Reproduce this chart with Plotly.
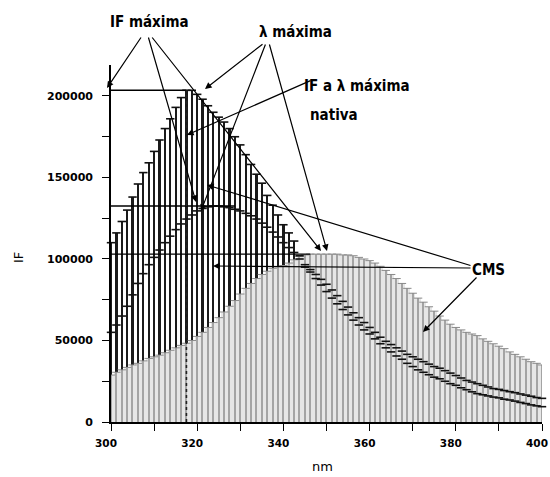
import plotly.graph_objects as go

# ---------------- data ----------------
wavelength_nm = [
    300, 301.25, 302.5, 303.75, 305, 306.25, 307.5, 308.75, 310, 311.25,
    312.5, 313.75, 315, 316.25, 317.5, 318.75, 320, 321.25, 322.5, 323.75,
    325, 326.25, 327.5, 328.75, 330, 331.25, 332.5, 333.75, 335, 336.25,
    337.5, 338.75, 340, 341.25, 342.5, 343.75, 345, 346.25, 347.5, 348.75,
    350, 351.25, 352.5, 353.75, 355, 356.25, 357.5, 358.75, 360, 361.25,
    362.5, 363.75, 365, 366.25, 367.5, 368.75, 370, 371.25, 372.5, 373.75,
    375, 376.25, 377.5, 378.75, 380, 381.25, 382.5, 383.75, 385, 386.25,
    387.5, 388.75, 390, 391.25, 392.5, 393.75, 395, 396.25, 397.5, 398.75, 400]

# native spectrum (dark, IF máxima at ~318 nm)
if_nativa = [
    110000, 116000, 123000, 130000, 138000, 146000, 153000, 159000, 166000, 173000,
    180000, 186000, 193000, 199000, 203500, 203500, 201000, 198000, 194000, 190000,
    187000, 184000, 180000, 175000, 170000, 164000, 158000, 152000, 146500, 139000,
    133000, 127000, 121000, 116000, 111000, 102000, 95000, 92000, 88000, 84000,
    80000, 76000, 72500, 69000, 65700, 62500, 59500, 56500, 54000, 51000,
    48000, 45500, 43000, 40500, 38500, 36000, 34000, 32000, 30500, 29000,
    27500, 26500, 25000, 23500, 22500, 21000, 19800, 18500, 17400, 16700,
    16000, 15300, 14800, 14000, 13500, 12800, 12000, 11300, 10500, 9900, 9400]

# second spectrum (IF máxima ~132000 near 324 nm)
if_intermedia = [
    55000, 59500, 65000, 71000, 78000, 85000, 91000, 96500, 101000, 105500,
    110000, 114000, 118000, 121500, 124500, 127000, 129500, 131000, 132000, 132500,
    132500, 132000, 131500, 130500, 129500, 128000, 126500, 124500, 122000, 119500,
    116500, 113500, 110000, 107000, 104000, 100000, 96500, 93500, 90500, 87500,
    84500, 81000, 77500, 74000, 70500, 67000, 64000, 61000, 58000, 55000,
    52000, 49500, 47500, 45500, 43500, 41500, 40000, 38500, 37000, 35500,
    34000, 33000, 31500, 30000, 28500, 27000, 25500, 24500, 23500, 22500,
    21500, 20500, 20000, 19300, 18600, 18000, 17200, 16500, 15800, 15000, 14500]

# CMS spectrum (light grey, IF máxima ~103000 near 350 nm)
if_cms = [
    28800, 30500, 32000, 33500, 35000, 36000, 37500, 39000, 40000, 41000,
    42500, 44000, 45500, 47000, 48300, 50000, 52500, 55000, 58000, 61000,
    64000, 67500, 71000, 74500, 78500, 82000, 85000, 88000, 90500, 92500,
    94300, 95300, 96000, 97500, 99500, 101500, 102500, 103000, 103000, 103000,
    103000, 103000, 103000, 102500, 102500, 102000, 101000, 100000, 99000, 97500,
    95500, 93000, 90500, 88000, 85000, 82000, 79000, 76000, 73500, 70700,
    68000, 65000, 62500, 60000, 58000, 56500, 55000, 54000, 53000, 51000,
    49500, 48000, 46500, 45000, 43000, 41500, 40000, 38500, 37000, 36000, 35000]

x_ticks = [300, 310, 320, 330, 340, 350, 360, 370, 380, 390, 400]
x_ticktext = ["300", "", "320", "", "340", "", "360", "", "380", "", "400"]
y_ticks = [0, 25000, 50000, 75000, 100000, 125000, 150000, 175000, 200000]
y_ticktext = ["0", "", "50000", "", "100000", "", "150000", "", "200000"]

# ---------------- layout constants ----------------
W, H = 550, 477
L, R, T, B = 111, 8, 65, 55
PW, PH = W - L - R, H - T - B
LABEL_FONT = dict(family="DejaVu Sans Condensed, Liberation Sans Narrow, Arial Narrow, Liberation Sans, sans-serif",
                  size=15, color="black", weight="bold")
TICK_FONT = dict(family="DejaVu Sans, sans-serif", color="black", weight="bold")


def pp(px, py):
    """pixel position -> paper coordinates"""
    return (px - L) / PW, (H - B - py) / PH


fig = go.Figure()

# dark vertical lines of the native spectrum
fig.add_trace(go.Bar(x=wavelength_nm, y=if_nativa, width=0.52,
                     marker=dict(color="#1a1a1a", line=dict(width=0)),
                     showlegend=False, hoverinfo="skip"))
# CMS spectrum: light grey field with fine grey lines
fig.add_trace(go.Bar(x=wavelength_nm, y=if_cms, width=1.25,
                     marker=dict(color="#e6e6e6", line=dict(width=0)),
                     showlegend=False, hoverinfo="skip"))
fig.add_trace(go.Bar(x=wavelength_nm, y=if_cms, width=0.28,
                     marker=dict(color="#a4a4a4", line=dict(width=0)),
                     showlegend=False, hoverinfo="skip"))
# CMS top caps (soft)
fig.add_trace(go.Scatter(x=wavelength_nm, y=if_cms, mode="markers",
                         marker=dict(symbol="line-ew", size=6,
                                     line=dict(color="#8a8a8a", width=1)),
                         showlegend=False, hoverinfo="skip"))
# caps of the two darker spectra
for series in (if_nativa, if_intermedia):
    fig.add_trace(go.Scatter(x=wavelength_nm, y=series, mode="markers",
                             marker=dict(symbol="line-ew", size=6,
                                         line=dict(color="#111", width=1.6)),
                             showlegend=False, hoverinfo="skip", cliponaxis=False))

# guide lines derived from data maxima
shapes = []
for series, extra in ((if_nativa, 0), (if_intermedia, 5), (if_cms, 0)):
    m = max(series)
    xm = wavelength_nm[series.index(m)]
    shapes.append(dict(type="line", xref="x", yref="y", x0=300, x1=xm + extra,
                       y0=m, y1=m, line=dict(color="black", width=1.4), layer="above"))
m_nat = max(if_nativa)
x_nat = wavelength_nm[if_nativa.index(m_nat)]
shapes.append(dict(type="line", xref="x", yref="y", x0=x_nat, x1=x_nat, y0=0, y1=m_nat,
                   line=dict(color="#222", width=1.6, dash="dot"), layer="above"))

annotations = []
# text labels (pixel positions)
for txt, px, py in (("IF máxima", 149, 22), ("λ máxima", 295, 32),
                    ("IF a λ máxima", 357, 86), ("nativa", 334, 115), ("CMS", 488, 270)):
    x, y = pp(px, py)
    annotations.append(dict(text=txt, x=x, y=y, xref="paper", yref="paper",
                            showarrow=False, font=LABEL_FONT,
                            xanchor="center", yanchor="middle"))

# arrows: (tail_px, tail_py, tip_px, tip_py)
arrows = [
    (142, 36, 107, 88), (148, 36, 196, 202), (151, 36, 321, 251),
    (264, 43, 205, 89), (266, 43, 201, 211), (269, 43, 327, 251),
    (312, 80, 187, 135),
    (472, 266, 207, 185), (472, 268, 213, 266), (478, 276, 423, 332),
]
for tx, ty, hx, hy in arrows:
    x, y = pp(hx, hy)
    annotations.append(dict(text="", x=x, y=y, xref="paper", yref="paper",
                            showarrow=True, ax=tx - hx, ay=ty - hy,
                            arrowhead=2, arrowsize=1.1, arrowwidth=1.2,
                            arrowcolor="black", standoff=0))

# axis titles
x, y = pp(18, 258)
annotations.append(dict(text="IF", x=x, y=y, xref="paper", yref="paper", showarrow=False,
                        xanchor="center", yanchor="middle", textangle=-90,
                        font=dict(family="DejaVu Sans, sans-serif", size=13, color="black")))
x, y = pp(322, 466)
annotations.append(dict(text="nm", x=x, y=y, xref="paper", yref="paper", showarrow=False,
                        xanchor="center", yanchor="middle",
                        font=dict(family="DejaVu Sans, sans-serif", size=13, color="black")))

fig.update_layout(
    width=W, height=H, margin=dict(l=L, r=R, t=T, b=B, pad=0, autoexpand=False),
    paper_bgcolor="white", plot_bgcolor="white",
    barmode="overlay", bargap=0, showlegend=False,
    shapes=shapes, annotations=annotations,
    xaxis=dict(range=[300, 400], tickmode="array", tickvals=x_ticks, ticktext=x_ticktext,
               ticks="outside", ticklen=7, tickwidth=1.4, tickcolor="black",
               ticklabelstandoff=4, ticklabelshift=-5, ticklabeloverflow="allow",
               automargin=False,
               showline=True, linecolor="black", linewidth=1.6, showgrid=False,
               zeroline=False, tickfont=dict(size=10.5, **TICK_FONT)),
    yaxis=dict(range=[0, 219000], tickmode="array", tickvals=y_ticks, ticktext=y_ticktext,
               ticks="outside", ticklen=7, tickwidth=1.4, tickcolor="black",
               ticklabelstandoff=7, automargin=False,
               showline=True, linecolor="black", linewidth=1.6, showgrid=False,
               zeroline=False, tickfont=dict(size=11, **TICK_FONT)),
)

fig.write_html("out.html")
